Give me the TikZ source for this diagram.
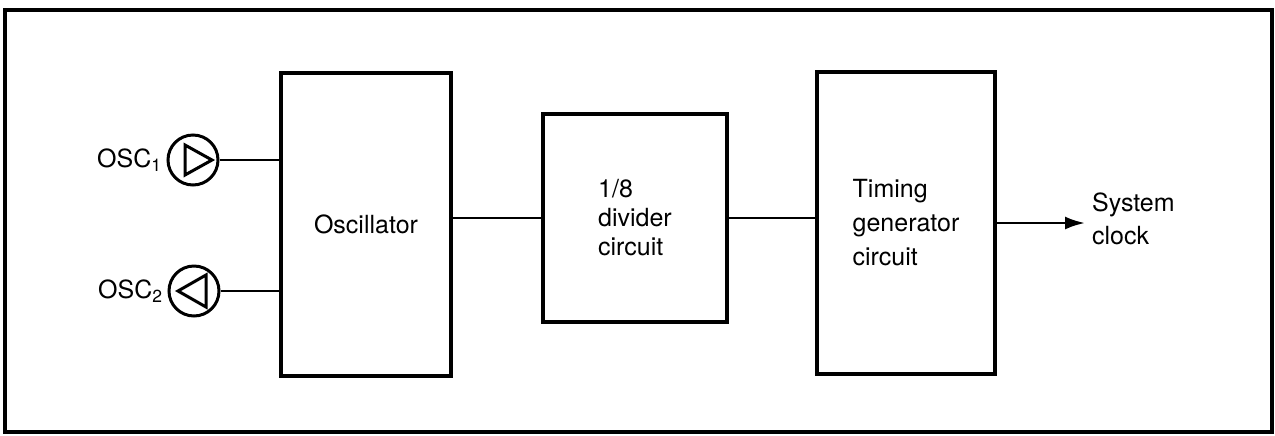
\documentclass[tikz,border=0pt]{standalone}
\usepackage{fontspec}
\setmainfont{TeX Gyre Heros}
\usetikzlibrary{arrows.meta}

\begin{document}
\begin{tikzpicture}[>={Latex[length=10pt,width=6.5pt]},x=0.5pt,y=-0.5pt,
  font=\fontsize{12.5}{17}\selectfont,
  block/.style={draw,line width=1.8pt,inner sep=0pt},
  pad/.style={circle,draw,line width=1.5pt,minimum size=25pt,inner sep=0pt},
  wire/.style={line width=1.3pt}]
\useasboundingbox (0,0) rectangle (1275,435);
\draw[line width=1.7pt] (5,10) rectangle (1272,432);
\node[block,minimum width=85pt,minimum height=151.5pt] (osc) at (366,224.5) {Oscillator};
\node[block,minimum width=92pt,minimum height=104pt,align=left,font=\fontsize{12.5}{14.5}\selectfont] (div) at (635,218) {1/8\\divider\\circuit};
\node[block,minimum width=89pt,minimum height=151pt,align=left] (tim) at (906,223) {Timing\\generator\\circuit};
\node[pad] (osc1) at (193,160) {};
\node[pad] (osc2) at (194,291) {};
\draw[line width=1.5pt,shift={(osc1.center)}] (-8,-15) -- (-8,15) -- (19,0) -- cycle;
\draw[line width=1.5pt,shift={(osc2.center)}] (12,-16) -- (12,16) -- (-16,0) -- cycle;
\node[anchor=east,inner sep=2pt] (lbl1) at (osc1.west) {OSC\textsubscript{1}};
\node[anchor=east,inner sep=2pt] (lbl2) at (osc2.west) {OSC\textsubscript{2}};
\node[anchor=west,align=left,font=\fontsize{12.5}{16.5}\selectfont] (clk) at (1085,219) {System\\clock};
\draw[wire] (osc1.east) -- (osc1.east -| osc.west);
\draw[wire] (osc2.east) -- (osc2.east -| osc.west);
\draw[wire] (osc.east |- div.west) -- (div.west);
\draw[wire] (div.east) -- (div.east -| tim.west);
\draw[wire,->] (tim.east) -- (tim.east -| clk.west);
\end{tikzpicture}
\end{document}
